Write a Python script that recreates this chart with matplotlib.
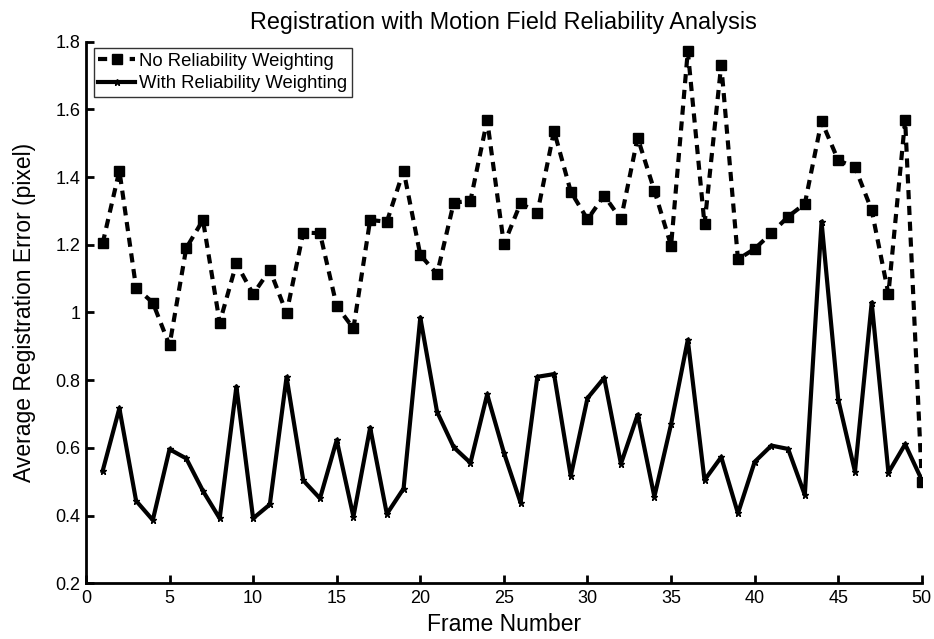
import matplotlib.pyplot as plt
from matplotlib.ticker import FormatStrFormatter

frames = list(range(1, 51))

no_weight = [1.204, 1.419, 1.073, 1.029, 0.903, 1.190, 1.273, 0.970, 1.145, 1.054,
             1.126, 0.998, 1.236, 1.234, 1.019, 0.953, 1.273, 1.268, 1.419, 1.170,
             1.113, 1.324, 1.330, 1.568, 1.201, 1.323, 1.293, 1.536, 1.357, 1.275,
             1.345, 1.275, 1.516, 1.360, 1.197, 1.772, 1.260, 1.732, 1.157, 1.188,
             1.234, 1.283, 1.321, 1.565, 1.449, 1.429, 1.302, 1.055, 1.569, 0.500]

with_weight = [0.532, 0.717, 0.444, 0.387, 0.596, 0.569, 0.473, 0.392, 0.781, 0.392,
               0.433, 0.809, 0.504, 0.451, 0.623, 0.397, 0.660, 0.405, 0.480, 0.985,
               0.707, 0.602, 0.556, 0.758, 0.586, 0.438, 0.810, 0.818, 0.517, 0.747,
               0.807, 0.553, 0.698, 0.456, 0.670, 0.919, 0.505, 0.573, 0.407, 0.559,
               0.607, 0.597, 0.461, 1.268, 0.742, 0.530, 1.029, 0.527, 0.611, 0.505]

plt.rcParams['font.family'] = ['Liberation Sans', 'DejaVu Sans']

fig = plt.figure(figsize=(9.34, 6.39), dpi=100)
ax = fig.add_axes([0.092, 0.087, 0.895, 0.848])

ax.plot(frames, no_weight, color='k', linestyle=(0, (2.2, 1.6)), linewidth=3,
        marker='s', markersize=7, markerfacecolor='k', markeredgecolor='k',
        label='No Reliability Weighting')
ax.plot(frames, with_weight, color='k', linestyle='-', linewidth=3,
        marker='*', markersize=5, markeredgewidth=1,
        label='With Reliability Weighting')

ax.set_xlim(0, 50)
ax.set_ylim(0.2, 1.8)
ax.set_xticks(range(0, 51, 5))
ax.set_yticks([0.2, 0.4, 0.6, 0.8, 1.0, 1.2, 1.4, 1.6, 1.8])
ax.yaxis.set_major_formatter(FormatStrFormatter('%g'))

for side in ['top', 'right']:
    ax.spines[side].set_visible(False)
for side in ['left', 'bottom']:
    ax.spines[side].set_linewidth(2)
ax.tick_params(direction='in', length=6, width=2, labelsize=13)
ax.tick_params(axis='x', pad=5)
ax.tick_params(axis='y', pad=4)

ax.set_title('Registration with Motion Field Reliability Analysis', fontsize=16.8, pad=9)
ax.set_xlabel('Frame Number', fontsize=16.5, labelpad=4)
ax.set_ylabel('Average Registration Error (pixel)', fontsize=16.5, labelpad=14)

leg = ax.legend(loc='upper left', bbox_to_anchor=(0.005, 0.995), fontsize=13.3,
                frameon=True, fancybox=False, borderpad=0.25, handlelength=2.0,
                handletextpad=0.2, labelspacing=0.3, borderaxespad=0.2)
leg.get_frame().set_edgecolor('k')
leg.get_frame().set_linewidth(1)

fig.savefig('out.png', dpi=100)
